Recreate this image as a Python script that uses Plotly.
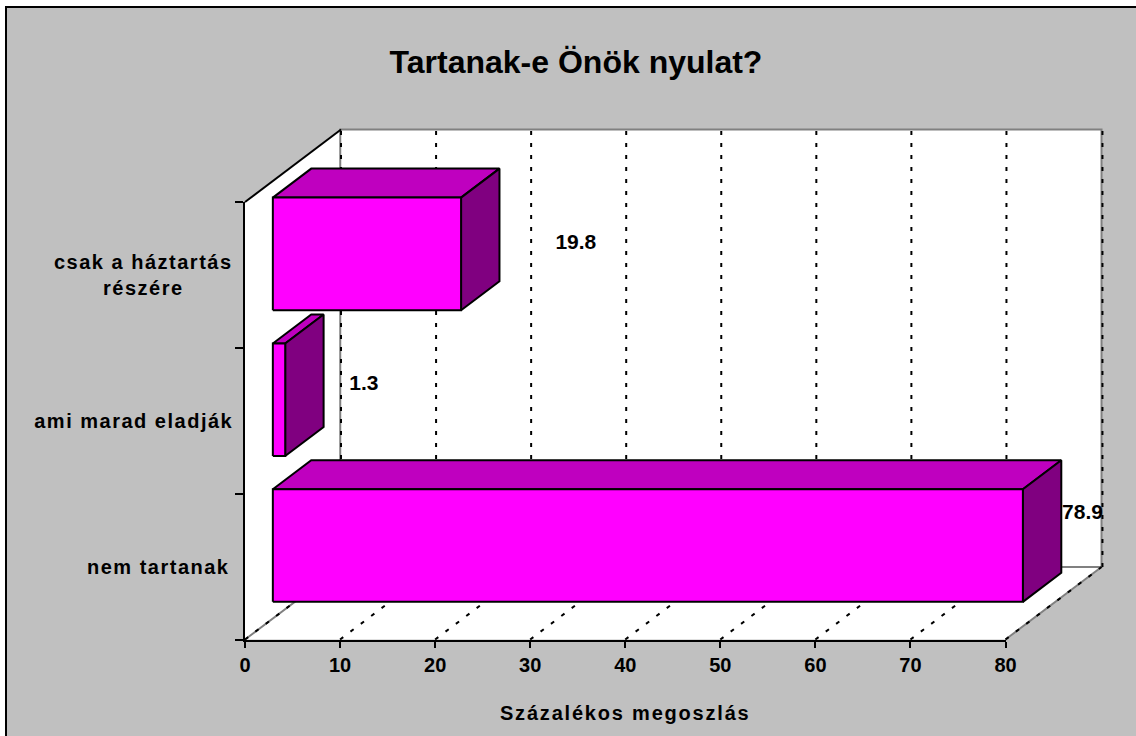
import plotly.graph_objects as go

categories = ["nem tartanak", "ami marad eladják", "csak a háztartás<br>részére"]
values = [78.9, 1.3, 19.8]
label_x = [88.1, 12.5, 34.8]
label_y = [0.862, 1.745, 2.715]
x_ticks = [0, 10, 20, 30, 40, 50, 60, 70, 80]
title_text = "Tartanak-e Önök nyulat?"
x_title = "Százalékos megoszlás"

W, H = 1136, 736
X0, X80, Y0, Y3 = 245.0, 1005.5, 639.5, 202.0
SX = (X80 - X0) / 80
SY = (Y0 - Y3) / 3
DX, DY = 10.1, 0.497
BAR_FRONT, BAR_BACK = 0.29, 0.69
BAR_GAP = 0.114
FONT = "Liberation Sans"


def pt(v, y, d=0.0):
    return v + d * DX, y + d * DY


def poly(points, fill=None, line="black", width=2, dash=None):
    xs, ys = zip(*points)
    if fill:
        xs, ys = xs + (xs[0],), ys + (ys[0],)
    return go.Scatter(x=list(xs), y=list(ys), mode="lines",
                      fill="toself" if fill else None, fillcolor=fill,
                      line=dict(color=line, width=width, dash=dash),
                      hoverinfo="skip", showlegend=False)


fig = go.Figure()
# walls and floor
fig.add_trace(poly([pt(0, 0), pt(0, 3), pt(0, 3, 1), pt(0, 0, 1)], "white", "rgba(0,0,0,0)", 0))
fig.add_trace(poly([pt(0, 3, 1), pt(80, 3, 1), pt(80, 0, 1), pt(0, 0, 1)], "white", "rgba(0,0,0,0)", 0))
fig.add_trace(poly([pt(0, 0), pt(80, 0), pt(80, 0, 1), pt(0, 0, 1)], "white", "rgba(0,0,0,0)", 0))
# wall edges
fig.add_trace(poly([pt(-0.08, 0, 1), pt(-0.08, 3, 1), pt(80, 3, 1), pt(80, 0, 1), pt(0, 0, 1), pt(0, 0), pt(0, 0, 1)], None, "#808080", 2))
fig.add_trace(poly([pt(80, 0), pt(80, 0, 1)], None, "#808080", 2))
fig.add_trace(poly([pt(0, 3), pt(0, 3, 1)], None, "black", 2))
# grid lines on back wall and floor
for t in x_ticks + [80.1]:
    if t != 80:
        fig.add_trace(poly([pt(t, 0, 1), pt(t, 3, 1)], None, "black", 2, "4px,8px"))
for t in x_ticks:
    fig.add_trace(poly([pt(t, 0), pt(t, 0, 1)], None, "black", 2, "4px,9px"))

# bars
for i, v in enumerate(values):
    lo, hi = i + BAR_GAP, i + 1 - BAR_GAP
    fig.add_trace(poly([pt(0, hi, BAR_FRONT), pt(v, hi, BAR_FRONT), pt(v, hi, BAR_BACK), pt(0, hi, BAR_BACK)], "#BF00BF"))
    fig.add_trace(poly([pt(v, lo, BAR_FRONT), pt(v, hi, BAR_FRONT), pt(v, hi, BAR_BACK), pt(v, lo, BAR_BACK)], "#800080"))
    fig.add_trace(poly([pt(0, lo, BAR_FRONT), pt(v, lo, BAR_FRONT), pt(v, hi, BAR_FRONT), pt(0, hi, BAR_FRONT)], "#FF00FF"))

# data labels
fig.add_trace(go.Scatter(x=label_x, y=label_y, mode="text", text=[str(v) for v in values],
                         textposition="middle center",
                         textfont=dict(family=FONT, size=21, color="black", weight="bold"),
                         hoverinfo="skip", showlegend=False))
# carrier of the visible axes
fig.add_trace(go.Scatter(x=[0], y=[0], xaxis="x2", yaxis="y2", mode="markers",
                         marker=dict(opacity=0), hoverinfo="skip", showlegend=False))

for i, c in enumerate(categories):
    fig.add_annotation(x=-2.3, y=i + 0.5, xref="x", yref="y", text=f"<b>{c}</b>", showarrow=False,
                       xanchor="right", yanchor="middle", align="center",
                       font=dict(family=FONT, size=20, color="black"))

fig.add_shape(type="rect", xref="paper", yref="paper", x0=6 / W, x1=1.02, y0=-0.02, y1=1 - 7 / H,
              fillcolor="#C0C0C0", line=dict(color="black", width=2), layer="below")

fig.update_layout(
    width=W, height=H, margin=dict(l=0, r=0, t=0, b=0, autoexpand=False), autosize=False,
    paper_bgcolor="white", plot_bgcolor="rgba(0,0,0,0)", showlegend=False,
    title=dict(text=title_text, x=576 / W, y=1 - 62 / H, xref="paper", yref="paper",
               xanchor="center", yanchor="middle",
               font=dict(family=FONT, size=32, color="black", weight="bold")),
    xaxis=dict(domain=[0, 1], range=[-X0 / SX, (W - X0) / SX], visible=False, fixedrange=True),
    yaxis=dict(domain=[0, 1], range=[(Y0 - H) / SY, Y0 / SY], visible=False, fixedrange=True),
    xaxis2=dict(domain=[X0 / W, X80 / W], range=[0, 80], anchor="y2", tickvals=x_ticks,
                ticks="outside", ticklen=6, tickwidth=2, tickcolor="black", showgrid=False, zeroline=False,
                showline=True, linecolor="black", linewidth=2, fixedrange=True,
                tickfont=dict(family=FONT, size=20, color="black", weight="bold"),
                title=dict(text=x_title, standoff=31,
                           font=dict(family=FONT, size=20, color="black", weight="bold"))),
    yaxis2=dict(domain=[(H - Y0) / H, (H - Y3) / H], range=[0, 3], anchor="x2", tickvals=[0, 1, 2, 3],
                showticklabels=False, ticks="outside", ticklen=8, tickwidth=2, tickcolor="black",
                showgrid=False, zeroline=False, showline=True, linecolor="black", linewidth=2, fixedrange=True),
)

fig.write_html("out.html", config={"displayModeBar": False},
               post_script="document.body.style.margin='0';"
                           "document.querySelectorAll('.annotation-text').forEach("
                           "function(e){e.style.letterSpacing='1.5px';});"
                           "document.querySelectorAll('.x2title').forEach("
                           "function(e){e.style.letterSpacing='1.8px';});")
